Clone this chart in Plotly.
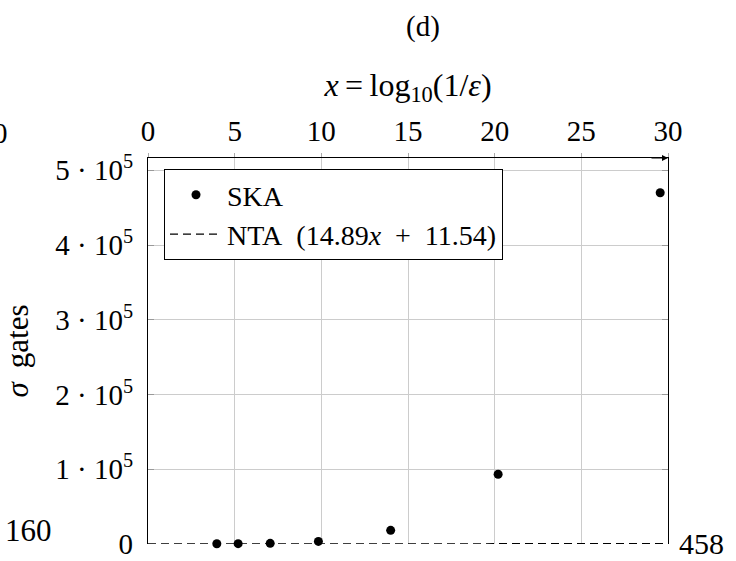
import plotly.graph_objects as go

# SKA gate counts versus precision x = log10(1/eps)
ska_x = [3.97, 5.2, 7.05, 9.83, 14.0, 20.2, 29.55]
ska_y = [300, 500, 900, 3500, 18300, 93300, 470000]

# NTA linear fit: 14.89 x + 11.54
nta_slope = 14.89
nta_intercept = 11.54
nta_x = [0, 30]
nta_y = [nta_slope * v + nta_intercept for v in nta_x]

x_ticks = [0, 5, 10, 15, 20, 25, 30]
y_ticks = [0, 100000, 200000, 300000, 400000, 500000]
y_ticktext = ["0", "1 · 10<sup>5</sup>", "2 · 10<sup>5</sup>", "3 · 10<sup>5</sup>",
              "4 · 10<sup>5</sup>", "5 · 10<sup>5</sup>"]

FONT = "Liberation Serif"
FS = 29

fig = go.Figure()
fig.add_trace(go.Scatter(
    x=ska_x, y=ska_y, mode="markers", name="SKA",
    marker=dict(color="black", size=9), cliponaxis=False,
))
fig.add_trace(go.Scatter(
    x=nta_x, y=nta_y, mode="lines",
    name="NTA\u2002(14.89<i>x</i>\u2002+\u200211.54)",
    line=dict(color="black", width=1.3, dash="8px,5px"), cliponaxis=False,
))

fig.update_layout(
    width=736, height=561,
    margin=dict(l=148, r=68, t=158, b=17, autoexpand=False),
    paper_bgcolor="white", plot_bgcolor="white",
    font=dict(family=FONT, size=FS, color="black"),
    title=dict(text="(d)", x=423 / 736, y=1 - 26 / 561, xanchor="center",
               yanchor="middle", font=dict(size=FS)),
    showlegend=True,
    legend=dict(
        x=(164 - 148) / 520, y=(544 - 169) / 386, xanchor="left", yanchor="top",
        bordercolor="black", borderwidth=1, bgcolor="white",
        font=dict(size=28), itemwidth=52, tracegroupgap=0,
    ),
    xaxis=dict(
        side="top", range=[0, 30], tickvals=x_ticks, automargin=False,
        showgrid=True, gridcolor="#cccccc", gridwidth=1,
        showline=True, linecolor="black", linewidth=1.2,
        ticks="outside", ticklen=4, tickcolor="#aaaaaa",
        zeroline=False,
        title=dict(text="<i>x</i>\u2009=\u2009log<sub>10</sub>(1/<i>ε</i>)", standoff=9,
                   font=dict(size=32)),
    ),
    yaxis=dict(
        range=[0, 516500], tickvals=y_ticks, ticktext=y_ticktext, automargin=False,
        showgrid=True, gridcolor="#cccccc", gridwidth=1,
        showline=True, linecolor="black", linewidth=1.2, mirror="ticks",
        ticks="inside", ticklen=6, tickcolor="#999999",
        zeroline=False, ticklabelstandoff=8,
        title=dict(text="<i>σ</i>\u00a0\u2009gates", standoff=20, font=dict(size=31)),
    ),
)

# arrowhead at the end of the top axis
fig.add_annotation(x=30, y=1, xref="x", yref="paper", ax=-18, ay=0,
                   showarrow=True, arrowhead=2, arrowsize=1, arrowwidth=1.2,
                   arrowcolor="black", text="")

# side labels
fig.add_annotation(x=(28 - 148) / 520, y=(544 - 530) / 386, xref="paper", yref="paper",
                   text="160", showarrow=False, xanchor="center", yanchor="middle",
                   font=dict(size=31))
fig.add_annotation(x=(701 - 148) / 520, y=(544 - 543) / 386, xref="paper", yref="paper",
                   text="458", showarrow=False, xanchor="center", yanchor="middle",
                   font=dict(size=30))
fig.add_annotation(x=(0 - 148) / 520, y=(544 - 133) / 386, xref="paper", yref="paper",
                   text="0", showarrow=False, xanchor="center", yanchor="middle",
                   font=dict(size=FS))

fig.write_html("out.html")
